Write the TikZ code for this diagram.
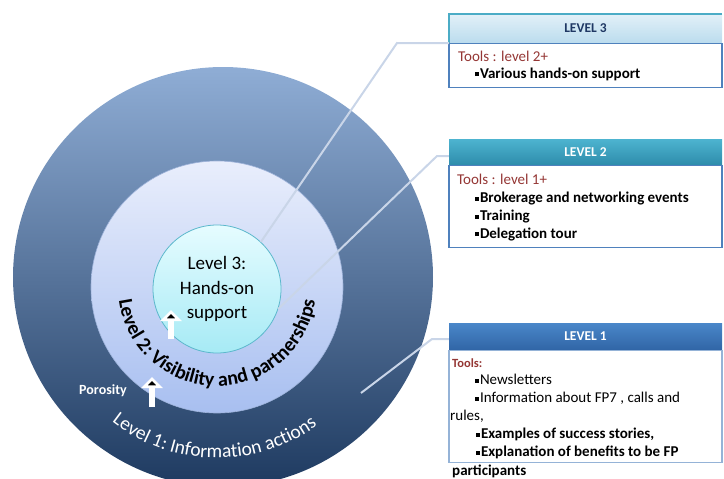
\documentclass[tikz,border=0pt]{standalone}
\usepackage{fontspec}
\setmainfont{Carlito}
\usepackage{xcolor}
\usetikzlibrary{arrows.meta,decorations.text}

\definecolor{outtop}{HTML}{8FADD5}
\definecolor{outbot}{HTML}{1E3A60}
\definecolor{midtop}{HTML}{E9EEFC}
\definecolor{midbot}{HTML}{A8BFF0}
\definecolor{midedge}{HTML}{5B7FC0}
\definecolor{intop}{HTML}{E6FCFF}
\definecolor{inbot}{HTML}{A6EAF5}
\definecolor{inedge}{HTML}{5CB8CC}
\definecolor{hthreetop}{HTML}{E2F0F8}
\definecolor{hthreebot}{HTML}{BBDCEE}
\definecolor{hthreetext}{HTML}{1F3864}
\definecolor{cyanedge}{HTML}{4BACC6}
\definecolor{htwotop}{HTML}{4DB4D0}
\definecolor{htwobot}{HTML}{2E8CAB}
\definecolor{honetop}{HTML}{4A87C9}
\definecolor{honebot}{HTML}{3065A6}
\definecolor{bodyblue}{HTML}{4F81BD}
\definecolor{toolred}{HTML}{953735}
\definecolor{linkgray}{HTML}{C9D5E8}

\newcommand{\sqbul}{\rule[1.8pt]{4pt}{4pt}\hspace{0.8pt}}

\begin{document}
\begin{tikzpicture}[x=1pt,y=1pt]
\useasboundingbox (0,0) rectangle (724,-479);

\edef\boxwidth{273pt}
\tikzstyle{lvlhead}=[minimum width=\boxwidth,inner sep=0pt,font=\fontsize{13.5}{13.5}\selectfont\bfseries]
\tikzstyle{lvlbody}=[draw=bodyblue,line width=1.2pt,fill=white,minimum width=\boxwidth,inner sep=0pt,anchor=north]
\tikzstyle{tooltext}=[anchor=base west,inner sep=0pt,text=toolred,font=\fontsize{15}{15}\selectfont]
\tikzstyle{itemtext}=[anchor=base west,inner sep=0pt,font=\fontsize{15}{15}\selectfont\bfseries]
\tikzstyle{link}=[draw=linkgray,line width=2pt]
\tikzstyle{poro}=[draw=white,line width=6.5pt,-{Triangle[width=21pt,length=11pt]}]

%% Rings
\node[circle,minimum size=420pt,inner sep=0pt,top color=outtop,bottom color=outbot] (ring1) at (223,-277) {};
\node[circle,minimum size=252pt,inner sep=0pt,draw=midedge!60,line width=0.6pt,top color=midtop,bottom color=midbot] (ring2) at (217,-287) {};
\node[circle,minimum size=128pt,inner sep=0pt,draw=inedge,line width=0.8pt,top color=intop,bottom color=inbot,
  align=center,font=\fontsize{19}{24.5}\selectfont] (ring3) at (217,-289) {Level 3:\\Hands-on\\support};

%% Ring labels
\path (ring2.center) ++(170:99) coordinate (ltwostart);
\path[decorate,decoration={text along path,text align=center,
  text={|\fontsize{20}{20}\selectfont\bfseries|Level 2: Visibility and partnerships}}]
  (ltwostart) arc[start angle=170,end angle=370,radius=99];
\path (ring2.center) ++(216:171) coordinate (lonestart);
\path[decorate,decoration={text along path,text align=center,text color=white,
  text={|\fontsize{19.5}{19.5}\selectfont|Level 1: Information actions}}]
  (lonestart) arc[start angle=216,end angle=322,radius=171];

%% Porosity
\node[inner sep=0pt,text=white,font=\fontsize{14}{14}\selectfont\bfseries] (poros) at (103,-391) {Porosity};
\coordinate (poroAs) at (152,-407);
\coordinate (poroAe) at (152,-377);
\coordinate (poroBs) at (171,-339);
\coordinate (poroBe) at (171,-310);
\draw[poro] (poroAs) -- (poroAe);
\draw[poro] (poroBs) -- (poroBe);

%% Connectors
\coordinate (elbthree) at (397,-43);
\coordinate (elbtwo) at (437,-156);
\coordinate (elbone) at (432,-339);
\coordinate (pinone) at (361,-393);

%% Level 3 box
\node[lvlhead,minimum height=29pt,top color=hthreetop,bottom color=hthreebot,text=hthreetext] (head3) at (585.5,-28.5) {LEVEL 3};
\node[lvlbody,minimum height=44pt] (body3) at (head3.south) {};
\draw[cyanedge,line width=1.5pt] (head3.south west) -- (head3.north west) -- (head3.north east);
\node[tooltext] (tool3) at (458,-61) {Tools : level 2+};
\node[itemtext] (item3a) at (475,-78) {\sqbul Various hands-on support};

%% Level 2 box
\node[lvlhead,minimum height=26pt,top color=htwotop,bottom color=htwobot,text=white] (head2) at (585.5,-152) {LEVEL 2};
\node[lvlbody,minimum height=82pt] (body2) at (head2.south) {};
\node[tooltext] (tool2) at (457,-184.5) {Tools : level 1+};
\node[itemtext] (item2a) at (475,-202.5) {\sqbul Brokerage and networking events};
\node[itemtext] (item2b) at (475,-220.5) {\sqbul Training};
\node[itemtext] (item2c) at (475,-238) {\sqbul Delegation tour};

%% Level 1 box
\node[lvlhead,minimum height=27pt,top color=honetop,bottom color=honebot,text=white] (head1) at (585.5,-336.5) {LEVEL 1};
\node[lvlbody,draw=bodyblue!60,minimum height=112pt] (body1) at (head1.south) {};
\node[tooltext,font=\fontsize{12.5}{12.5}\selectfont\bfseries] (tool1) at (452,-367) {Tools:};
\node[itemtext,font=\fontsize{15}{15}\selectfont] (item1a) at (475,-384.5) {\sqbul Newsletters};
\node[itemtext,font=\fontsize{15}{15}\selectfont] (item1b) at (475,-402.5) {\sqbul Information about FP7 , calls and};
\node[itemtext,font=\fontsize{15}{15}\selectfont] (item1c) at (450,-420) {rules,};
\node[itemtext] (item1d) at (476,-438.5) {\sqbul Examples of success stories,};
\node[itemtext] (item1e) at (476,-456.5) {\sqbul Explanation of benefits to be FP};
\node[itemtext] (item1f) at (452,-475) {participants};

%% Lines to boxes
\draw[link] (ring3.47) -- (elbthree) -- (head3.south west);
\draw[link] (ring3.-18) -- (elbtwo) -- (elbtwo -| head2.west);
\draw[link] (pinone) -- (elbone) -- (elbone -| head1.west);

\end{tikzpicture}
\end{document}
